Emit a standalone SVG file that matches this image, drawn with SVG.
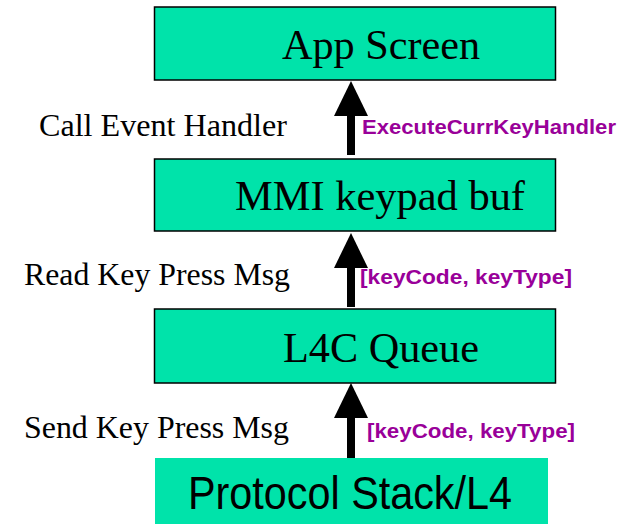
<svg xmlns="http://www.w3.org/2000/svg" width="637" height="524" viewBox="0 0 637 524">
  <style>
    .box { fill: #00e3aa; stroke: #000; stroke-width: 1.5; }
    .plain { fill: #00e3aa; stroke: none; }
    .title { font-family: "Liberation Serif", "Times New Roman", serif; font-size: 43px; fill: #000; }
    .stack { font-family: "Liberation Sans", Arial, sans-serif; font-size: 47px; fill: #000; }
    .note { font-family: "Liberation Serif", "Times New Roman", serif; font-size: 31px; fill: #000; }
    .param { font-family: "Liberation Sans", Arial, sans-serif; font-size: 19.5px; font-weight: bold; fill: #990099; }
    .link { stroke: #000; stroke-width: 8; fill: none; marker-end: url(#head); }
  </style>
  <defs>
    <marker id="head" markerUnits="userSpaceOnUse" markerWidth="36" markerHeight="36" refX="0" refY="17" orient="auto" viewBox="0 0 36 34">
      <path d="M0,0 L35,17 L0,34 Z" fill="#000"/>
    </marker>
  </defs>

  <g id="app-screen">
    <rect class="box" x="154.5" y="7" width="401" height="73"/>
    <text class="title" x="282" y="59" textLength="198" lengthAdjust="spacingAndGlyphs">App Screen</text>
  </g>

  <g id="mmi-keypad-buf">
    <rect class="box" x="154.5" y="159" width="401" height="72"/>
    <text class="title" x="235" y="210" textLength="290" lengthAdjust="spacingAndGlyphs">MMI keypad buf</text>
  </g>

  <g id="l4c-queue">
    <rect class="box" x="154.5" y="309" width="401" height="74"/>
    <text class="title" x="283" y="362" textLength="196" lengthAdjust="spacingAndGlyphs">L4C Queue</text>
  </g>

  <g id="protocol-stack">
    <rect class="plain" x="155" y="458" width="393" height="66"/>
    <text class="stack" x="188" y="509" textLength="324" lengthAdjust="spacingAndGlyphs">Protocol Stack/L4</text>
  </g>

  <g id="connectors">
    <path class="link" d="M351,155 V116"/>
    <path class="link" d="M351,307 V268"/>
    <path class="link" d="M351,458 V418"/>
  </g>

  <g id="labels">
    <text class="note" x="39" y="136" textLength="248" lengthAdjust="spacingAndGlyphs">Call Event Handler</text>
    <text class="param" x="362" y="134" textLength="254" lengthAdjust="spacingAndGlyphs">ExecuteCurrKeyHandler</text>
    <text class="note" x="24" y="285" textLength="266" lengthAdjust="spacingAndGlyphs">Read Key Press Msg</text>
    <text class="param" x="360" y="284" textLength="212" lengthAdjust="spacingAndGlyphs">[keyCode, keyType]</text>
    <text class="note" x="24" y="438" textLength="265" lengthAdjust="spacingAndGlyphs">Send Key Press Msg</text>
    <text class="param" x="367" y="438" textLength="208" lengthAdjust="spacingAndGlyphs">[keyCode, keyType]</text>
  </g>
</svg>
